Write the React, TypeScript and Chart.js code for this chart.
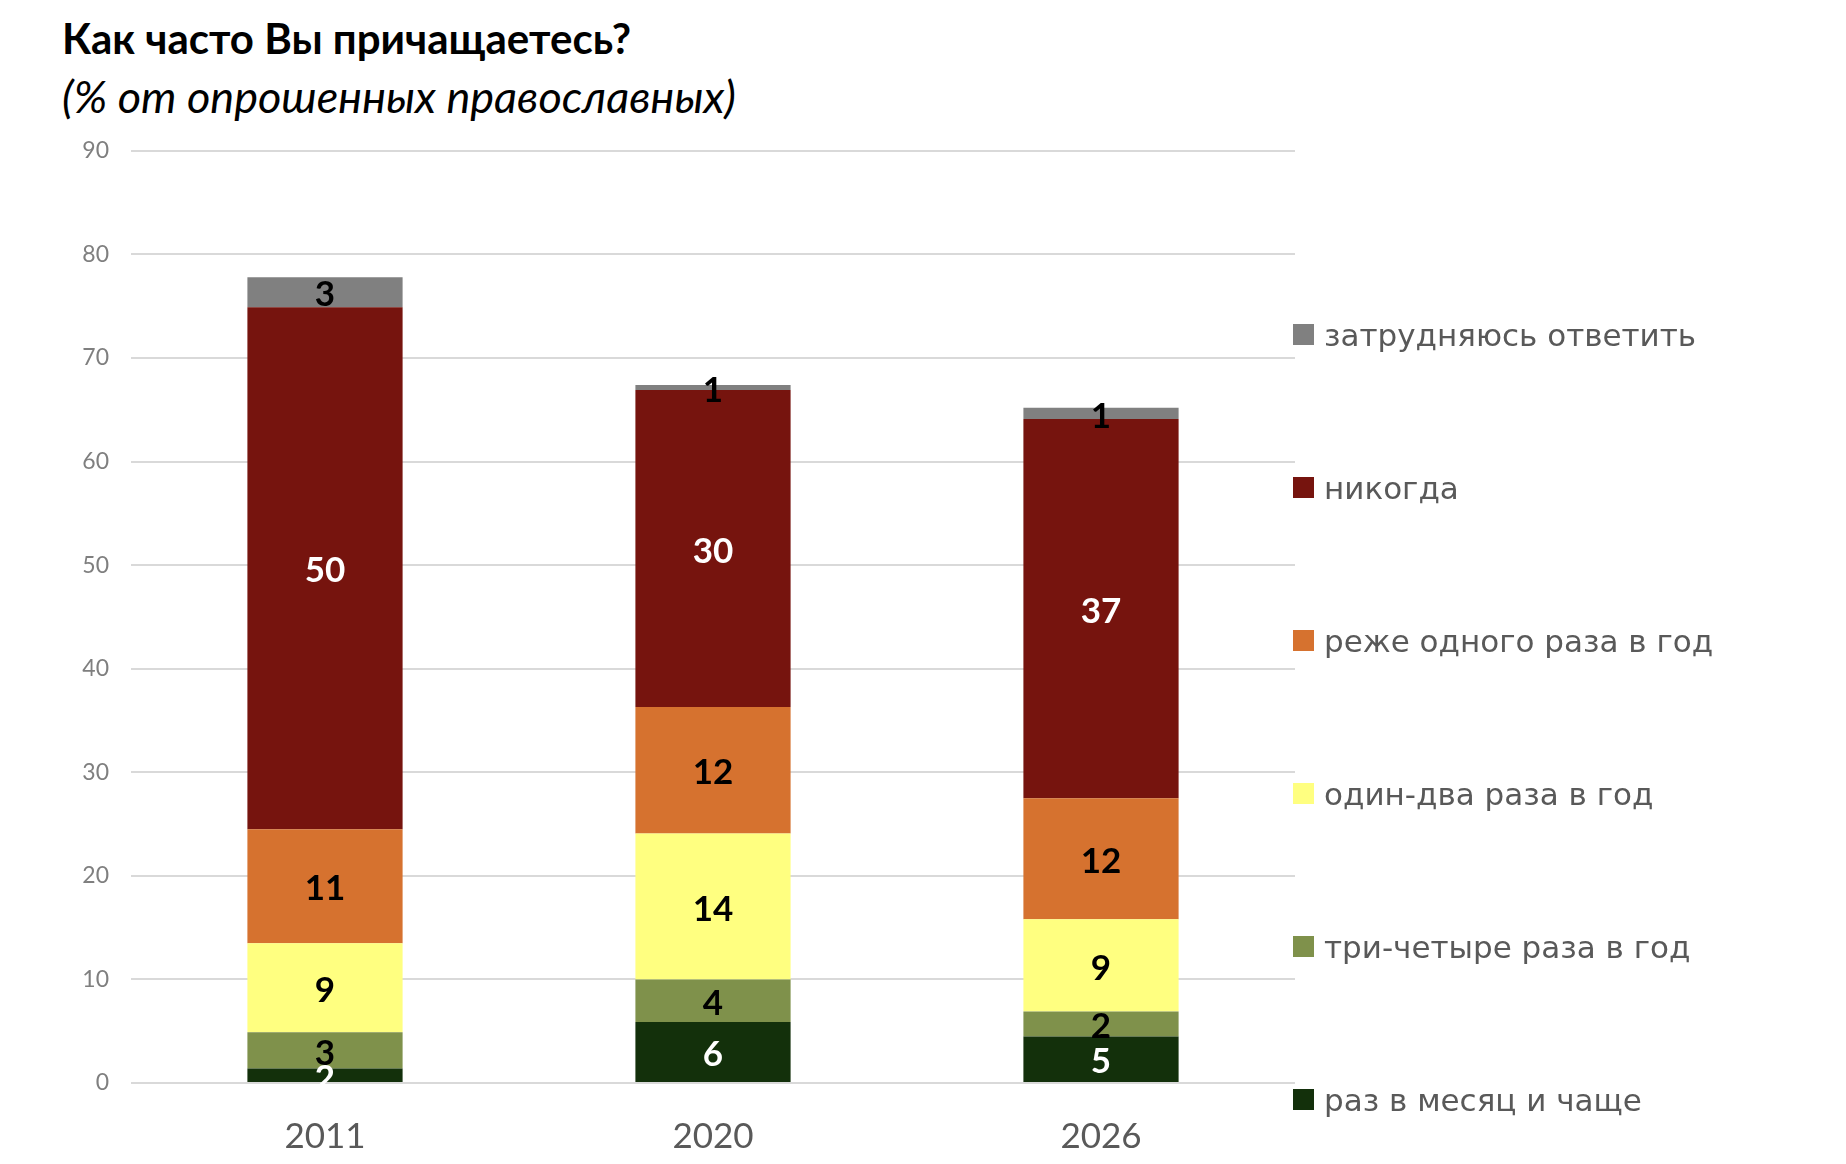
import { useEffect, useRef } from 'react';
import { Chart, registerables } from 'chart.js';
import type { Plugin } from 'chart.js';

Chart.register(...registerables);

// годы опроса
const years = ['2011', '2020', '2026'];

// высота сегментов (снизу вверх), % от опрошенных
const monthlyOrMore = [1.4, 5.9, 4.5];
const threeFourTimes = [3.5, 4.1, 2.4];
const onceTwice = [8.6, 14.1, 8.9];
const lessThanYearly = [11.0, 12.2, 11.7];
const never = [50.4, 30.6, 36.6];
const hardToSay = [2.9, 0.5, 1.1];

// подписи на сегментах
const monthlyOrMoreLabels = ['2', '6', '5'];
const threeFourTimesLabels = ['3', '4', '2'];
const onceTwiceLabels = ['9', '14', '9'];
const lessThanYearlyLabels = ['11', '12', '12'];
const neverLabels = ['50', '30', '37'];
const hardToSayLabels = ['3', '1', '1'];

const yTicks = [0, 10, 20, 30, 40, 50, 60, 70, 80, 90];

const series = [
  { name: 'раз в месяц и чаще', data: monthlyOrMore, labels: monthlyOrMoreLabels, color: '#13300B', text: '#FFFFFF' },
  { name: 'три-четыре раза в год', data: threeFourTimes, labels: threeFourTimesLabels, color: '#7F914B', text: '#000000' },
  { name: 'один-два раза в год', data: onceTwice, labels: onceTwiceLabels, color: '#FFFF80', text: '#000000' },
  { name: 'реже одного раза в год', data: lessThanYearly, labels: lessThanYearlyLabels, color: '#D6722F', text: '#000000' },
  { name: 'никогда', data: never, labels: neverLabels, color: '#76140E', text: '#FFFFFF' },
  { name: 'затрудняюсь ответить', data: hardToSay, labels: hardToSayLabels, color: '#808080', text: '#000000' },
];

const segmentLabels: Plugin<'bar'> = {
  id: 'segmentLabels',
  afterDatasetsDraw(chart) {
    const { ctx } = chart;
    ctx.save();
    ctx.font = 'bold 35px Lato, sans-serif';
    ctx.textAlign = 'center';
    ctx.textBaseline = 'middle';
    chart.data.datasets.forEach((_, i) => {
      const meta = chart.getDatasetMeta(i);
      meta.data.forEach((bar: any, j) => {
        const { x, y, base } = bar.getProps(['x', 'y', 'base'], true);
        ctx.fillStyle = series[i].text;
        ctx.fillText(series[i].labels[j], x, (y + base) / 2 + 3);
      });
    });
    ctx.restore();
  },
};

const App = () => {
  const canvasRef = useRef<HTMLCanvasElement | null>(null);

  useEffect(() => {
    const canvas = canvasRef.current;
    if (!canvas) return;
    const chart = new Chart(canvas, {
      type: 'bar',
      data: {
        labels: years,
        datasets: series.map((s) => ({
          label: s.name,
          data: s.data,
          backgroundColor: s.color,
          borderWidth: 0,
          categoryPercentage: 1,
          barPercentage: 0.4,
        })),
      },
      options: {
        animation: false,
        responsive: true,
        maintainAspectRatio: false,
        layout: { padding: 0 },
        plugins: {
          legend: { display: false },
          tooltip: { enabled: false },
        },
        scales: {
          x: {
            stacked: true,
            grid: { display: false },
            border: { display: false },
            ticks: {
              color: '#595959',
              font: { family: 'Lato', size: 35 },
              padding: 25,
            },
            afterFit: (s) => {
              s.height = 75;
            },
          },
          y: {
            stacked: true,
            min: 0,
            max: 90,
            afterBuildTicks: (s) => {
              s.ticks = yTicks.map((v) => ({ value: v }));
            },
            grid: { color: '#D9D9D9', lineWidth: 2, drawTicks: false },
            border: { display: false },
            ticks: {
              color: '#7F7F7F',
              font: { family: 'Lato', size: 23 },
              padding: 22,
            },
            afterFit: (s) => {
              s.width = 123;
            },
          },
        },
      },
      plugins: [segmentLabels],
    });
    return () => {
      chart.destroy();
    };
  }, []);

  return (
    <div style={{ position: 'relative', width: 1830, height: 1148 }}>
      <div
        style={{
          position: 'absolute',
          left: 54,
          top: 5,
          font: 'bold 42px Lato, sans-serif',
          color: '#000',
          whiteSpace: 'nowrap',
        }}
      >
        Как часто Вы причащаетесь?
      </div>
      <div
        style={{
          position: 'absolute',
          left: 54,
          top: 61,
          font: 'italic 45px Lato, sans-serif',
          color: '#000',
          whiteSpace: 'nowrap',
        }}
      >
        (% от опрошенных православных)
      </div>
      <div style={{ position: 'absolute', left: 0, top: 107, width: 1287, height: 1043 }}>
        <canvas ref={canvasRef} />
      </div>
      <div
        style={{
          position: 'absolute',
          left: 1285,
          top: 250,
          display: 'flex',
          flexDirection: 'column',
        }}
      >
        {[...series].reverse().map((s) => (
          <div key={s.name} style={{ height: 153, display: 'flex', alignItems: 'center' }}>
            <span style={{ width: 21, height: 21, background: s.color, marginRight: 10 }} />
            <span
              style={{
                font: '31px "DejaVu Sans", sans-serif',
                color: '#595959',
                whiteSpace: 'nowrap',
              }}
            >
              {s.name}
            </span>
          </div>
        ))}
      </div>
    </div>
  );
};

export default App;
